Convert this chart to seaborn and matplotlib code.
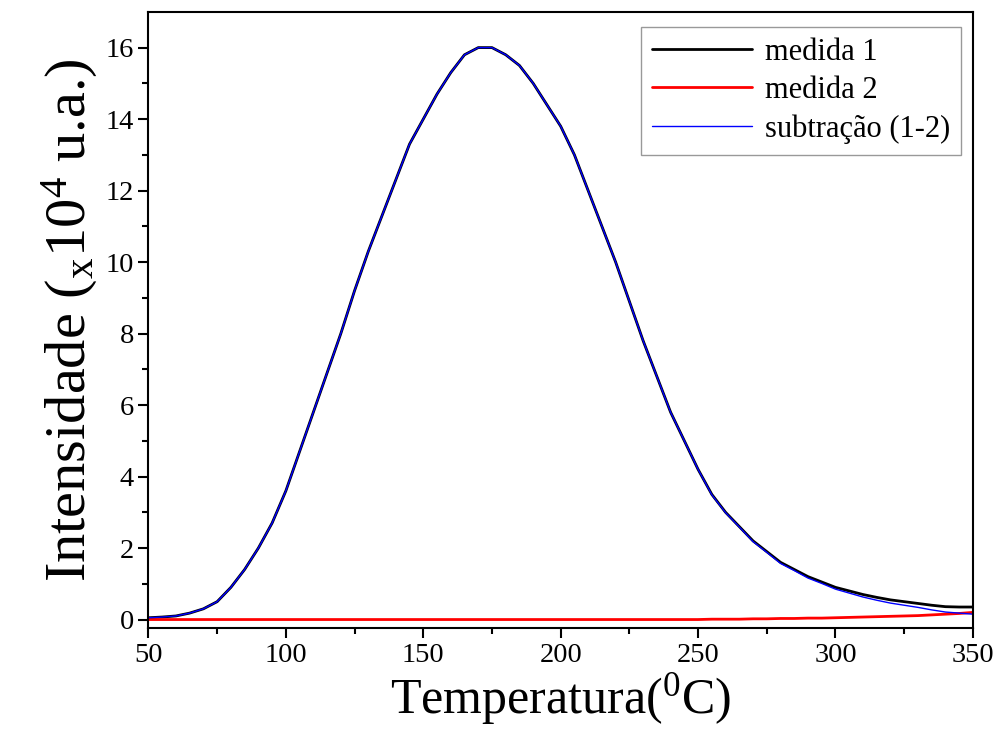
import numpy as np
import pandas as pd
import matplotlib
matplotlib.use("Agg")
import matplotlib.pyplot as plt
import seaborn as sns

temperatura = [50, 55, 60, 65, 70, 75, 80, 85, 90, 95, 100, 105, 110, 115, 120,
               125, 130, 135, 140, 145, 150, 155, 160, 165, 170, 175, 180, 185,
               190, 195, 200, 205, 210, 215, 220, 225, 230, 235, 240, 245, 250,
               255, 260, 265, 270, 275, 280, 285, 290, 295, 300, 305, 310, 315,
               320, 325, 330, 335, 340, 345, 350]
medida1 = [0.05, 0.07, 0.10, 0.18, 0.30, 0.50, 0.90, 1.40, 2.00, 2.70, 3.60,
           4.70, 5.80, 6.90, 8.00, 9.20, 10.30, 11.30, 12.30, 13.30, 14.00,
           14.70, 15.30, 15.80, 16.00, 16.00, 15.80, 15.50, 15.00, 14.40,
           13.80, 13.00, 12.00, 11.00, 10.00, 8.90, 7.80, 6.80, 5.80, 5.00,
           4.20, 3.50, 3.00, 2.60, 2.20, 1.90, 1.60, 1.40, 1.20, 1.05, 0.90,
           0.80, 0.70, 0.62, 0.55, 0.50, 0.45, 0.40, 0.36, 0.35, 0.35]
medida2 = [0.0, 0.0, 0.0, 0.0, 0.0, 0.0, 0.0, 0.0, 0.0, 0.0, 0.0, 0.0, 0.0,
           0.0, 0.0, 0.0, 0.0, 0.0, 0.0, 0.0, 0.0, 0.0, 0.0, 0.0, 0.0, 0.0,
           0.0, 0.0, 0.0, 0.0, 0.0, 0.0, 0.0, 0.0, 0.0, 0.0, 0.0, 0.0, 0.0,
           0.0, 0.0, 0.01, 0.01, 0.01, 0.02, 0.02, 0.03, 0.03, 0.04, 0.04,
           0.05, 0.06, 0.07, 0.08, 0.09, 0.10, 0.11, 0.13, 0.15, 0.17, 0.20]

df = pd.DataFrame({"T": temperatura, "m1": medida1, "m2": medida2})
df["sub"] = df["m1"] - df["m2"]

sns.set_style("ticks")
plt.rcParams["font.family"] = ["Liberation Serif", "DejaVu Serif"]
plt.rcParams["mathtext.fontset"] = "custom"
plt.rcParams["mathtext.rm"] = "Liberation Serif"
plt.rcParams["mathtext.it"] = "Liberation Serif"
plt.rcParams["text.color"] = "black"
plt.rcParams["axes.labelcolor"] = "black"
plt.rcParams["xtick.color"] = "black"
plt.rcParams["ytick.color"] = "black"
plt.rcParams["axes.edgecolor"] = "black"

fig, ax = plt.subplots(figsize=(10.03, 7.42), dpi=100)
sns.lineplot(data=df, x="T", y="m1", color="black", lw=2, label="medida 1", ax=ax)
sns.lineplot(data=df, x="T", y="m2", color="red", lw=2, label="medida 2", ax=ax)
sns.lineplot(data=df, x="T", y="sub", color="blue", lw=1, label="subtração (1-2)", ax=ax)

ax.set_xlim(50, 350)
ax.set_ylim(-0.25, 17)
ax.set_xticks(range(50, 351, 50))
ax.set_xticks(range(75, 350, 50), minor=True)
ax.set_yticks(range(0, 17, 2))
ax.set_yticks(range(1, 17, 2), minor=True)
ax.tick_params(which="major", direction="out", length=7, width=1.5, labelsize=20.5)
ax.tick_params(which="minor", direction="out", length=4, width=1.5)
for s in ax.spines.values():
    s.set_linewidth(1.5)

ax.set_xlabel("Temperatura($^0$C)", fontsize=36, labelpad=2)
ax.set_ylabel("Intensidade ($_\\mathrm{x}$10$^4$ u.a.)", fontsize=42, labelpad=4)

leg = ax.legend(loc="upper right", fontsize=22, frameon=True, fancybox=False,
                handlelength=3.3, borderpad=0.35, labelspacing=0.3,
                handletextpad=0.4, borderaxespad=0, bbox_to_anchor=(0.985, 0.975))
leg.get_frame().set_edgecolor("gray")
leg.get_frame().set_linewidth(1)

plt.subplots_adjust(left=0.148, right=0.97, top=0.984, bottom=0.153)
plt.savefig("out.png", dpi=100)
